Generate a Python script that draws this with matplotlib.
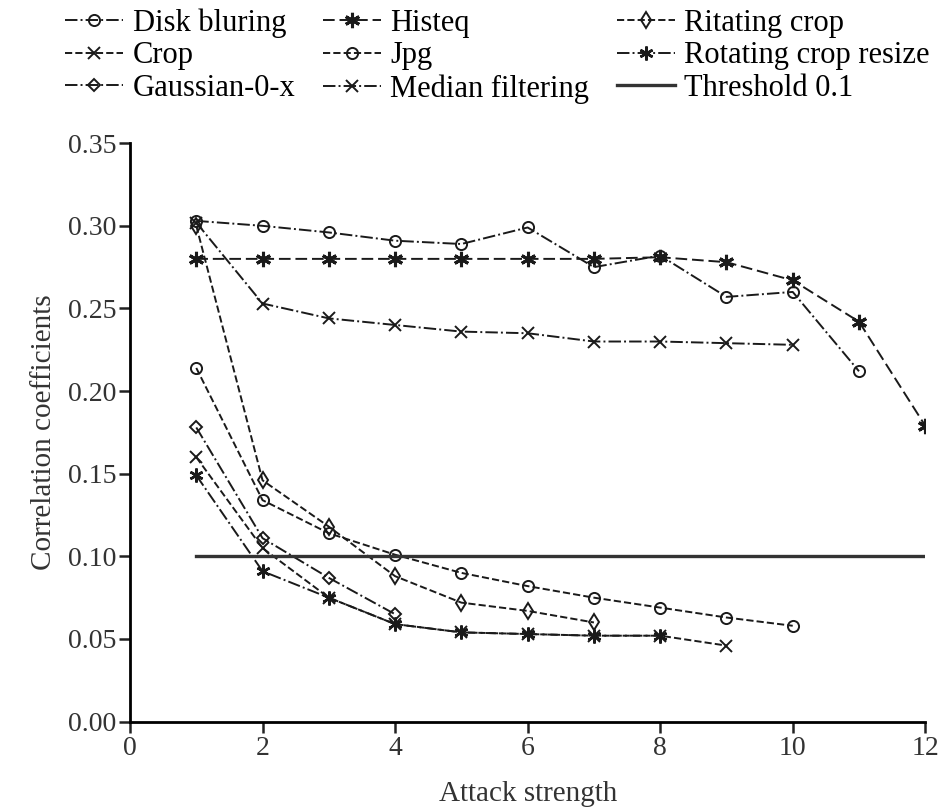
import matplotlib
matplotlib.use("Agg")
import matplotlib.pyplot as plt

plt.rcParams['font.family'] = ['Liberation Serif', 'DejaVu Serif']

# attack strength values per series
x_disk = [1, 2, 3, 4, 5, 6, 7, 8, 9, 10, 11]
disk = [0.303, 0.300, 0.296, 0.291, 0.289, 0.299, 0.275, 0.282, 0.257, 0.260, 0.212]

x_crop = [1, 2, 3, 4, 5, 6, 7, 8, 9]
crop = [0.160, 0.105, 0.075, 0.059, 0.054, 0.053, 0.052, 0.052, 0.046]

x_gauss = [1, 2, 3, 4]
gauss = [0.178, 0.111, 0.087, 0.065]

x_histeq = [1, 2, 3, 4, 5, 6, 7, 8, 9, 10, 11, 12]
histeq = [0.280, 0.280, 0.280, 0.280, 0.280, 0.280, 0.280, 0.281, 0.278, 0.267, 0.242, 0.179]

x_jpg = [1, 2, 3, 4, 5, 6, 7, 8, 9, 10]
jpg = [0.214, 0.134, 0.114, 0.101, 0.090, 0.082, 0.075, 0.069, 0.063, 0.058]

x_median = [1, 2, 3, 4, 5, 6, 7, 8, 9, 10]
median = [0.302, 0.253, 0.244, 0.240, 0.236, 0.235, 0.230, 0.230, 0.229, 0.228]

x_rcrop = [1, 2, 3, 4, 5, 6, 7]
rcrop = [0.300, 0.146, 0.118, 0.088, 0.072, 0.067, 0.060]

x_rcr = [1, 2, 3, 4, 5, 6, 7, 8]
rcr = [0.149, 0.091, 0.075, 0.059, 0.054, 0.053, 0.052, 0.052]

x_thr = [1, 12]
thr = [0.1, 0.1]

fig = plt.figure(figsize=(9.49, 8.09), dpi=100)
ax = fig.add_axes([0.137, 0.108, 0.838, 0.715])

k = dict(color='#1a1a1a', lw=1.4, ms=8, mfc='none', mew=1.4)
ax.plot(x_disk, disk, ls='-.', marker='o', label='Disk bluring', **k)
ax.plot(x_crop, crop, ls='--', marker='x', label='Crop', **k)
ax.plot(x_gauss, gauss, ls='-.', marker='D', label='Gaussian-0-x', **dict(k, ms=6))
ax.plot(x_histeq, histeq, ls=(0, (6, 2.5)), marker=(6, 2, 0), label='Histeq', **dict(k, ms=11, mew=2.2))
ax.plot(x_jpg, jpg, ls='--', marker='o', label='Jpg', **k)
ax.plot(x_median, median, ls='-.', marker='x', label='Median filtering', **k)
ax.plot(x_rcrop, rcrop, ls='--', marker='d', label='Ritating crop', **dict(k, ms=8))
ax.plot(x_rcr, rcr, ls='-.', marker=(6, 2, 0), label='Rotating crop resize', **dict(k, ms=10, mew=1.8))
ax.plot(x_thr, thr, ls='-', color='#333333', lw=2.4, label='Threshold 0.1')

ax.set_xlim(0, 12)
ax.set_ylim(0, 0.35)
ax.set_xticks(range(0, 13, 2))
ax.set_yticks([0, 0.05, 0.10, 0.15, 0.20, 0.25, 0.30, 0.35])
ax.set_yticklabels(['0.00', '0.05', '0.10', '0.15', '0.20', '0.25', '0.30', '0.35'])
ax.spines['top'].set_visible(False)
ax.spines['right'].set_visible(False)
ax.spines['left'].set_linewidth(2)
ax.spines['bottom'].set_linewidth(2)
ax.tick_params(direction='out', length=8, width=1.8, labelsize=20, pad=2,
               colors='#222222', labelcolor='#333333')
ax.set_xlabel('Attack strength', fontsize=21, color='#333333', labelpad=15)
ax.set_ylabel('Correlation coefficients', fontsize=21, color='#333333', labelpad=8)

fig.legend(loc='upper left', bbox_to_anchor=(0.056, 1.005), ncol=3, frameon=False,
           fontsize=22, handlelength=1.9, handletextpad=0.3, columnspacing=0.9,
           labelspacing=0.12, borderaxespad=0)

fig.savefig('out.png', dpi=100)
